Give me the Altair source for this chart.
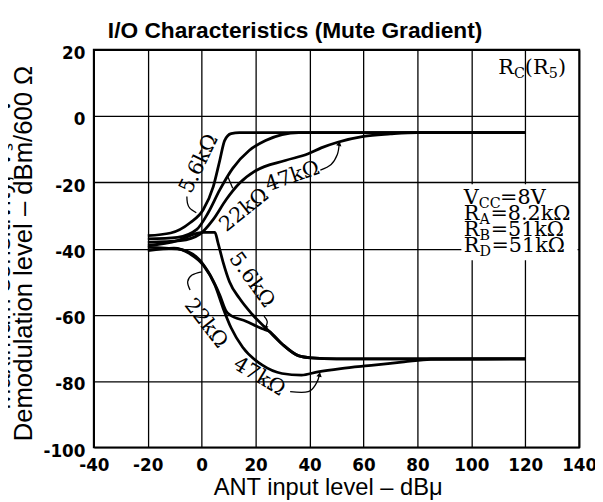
import altair as alt
import pandas as pd

# ---- curve data ----
UP_56_X = [-20, -11.5, -4.3, 0.6, 4.3, 6.7, 8.5, 10.9, 14, 40, 80, 120]
UP_56_Y = [-36.1, -35.3, -32.2, -28.2, -21.3, -13.4, -7.4, -5.3, -5.0, -5.0, -5.0, -5.0]
UP_22_X = [-20, -9, -1.8, 2.4, 6.7, 11.5, 17.6, 23.7, 29.8, 36, 80, 120]
UP_22_Y = [-37.1, -36.6, -34.2, -29.2, -22.3, -15.8, -10.4, -7.4, -5.6, -5.0, -5.0, -5.0]
UP_47_X = [-20, -7.9, -0.6, 4.3, 9.1, 14, 20, 31, 39.5, 44.3, 50.4, 60, 70, 80, 120]
UP_47_Y = [-38.1, -37.6, -35.6, -31.2, -25.2, -20.3, -16.5, -13.4, -11.4, -9.6, -7.9, -6.1, -5.4, -5.0, -5.0]
LOW_56_X = [-20, -9, -1.8, 0.6, 4.9, 6, 7.9, 10.3, 14, 18.8, 24.9, 29.8, 35.8, 40.7, 50, 120]
LOW_56_Y = [-39.1, -37.6, -35.4, -35.1, -35.1, -38.1, -44, -50, -55, -59.9, -64.9, -68.8, -72.3, -73.0, -73.3, -73.3]
LOW_22_X = [-20, -9, -1.8, 2.4, 6.7, 9.1, 10.3, 16.4, 22.5, 24.9, 29.8, 35.8, 40.7, 50, 120]
LOW_22_Y = [-39.6, -40.1, -42.6, -47, -54, -58.9, -59.9, -61.9, -64.2, -64.9, -68.8, -72.3, -73.0, -73.3, -73.3]
LOW_47_X = [-20, -10.3, -4.3, 0.6, 4.9, 7.9, 10.9, 15.2, 22.5, 29.8, 37, 43.1, 51.6, 63.8, 75, 85, 120]
LOW_47_Y = [-40.6, -39.9, -41.6, -45, -51, -57.9, -63.9, -69.8, -75.2, -77.7, -78.2, -77.2, -76.2, -75.2, -74.2, -73.4, -73.3]

# ---- curve labels ----
LABEL_TEXT = ["5.6kΩ", "22kΩ", "47kΩ", "5.6kΩ", "22kΩ", "47kΩ"]
LABEL_X = [-0.9, 15.8, 33.7, 18.5, 1.5, 21.3]
LABEL_Y = [-14.4, -28.4, -18.3, -49.5, -62.6, -78.7]
LABEL_ANGLE = [296, 321, 341, 54, 52, 31]

# ---- leader lines ----
LEAD_UP56_X = [-5.5, -5.3, -4.5, -2.0]
LEAD_UP56_Y = [-24.3, -26.2, -27.7, -29.2]
LEAD_UP22_X = [11.5, 9.7]
LEAD_UP22_Y = [-21.8, -18.3]
LEAD_UP47_X = [44.0, 48.0, 50.3, 51.0]
LEAD_UP47_Y = [-16.3, -14.6, -11.6, -8.3]
LEAD_LOW56_X = [23.1, 24.3, 23.6]
LEAD_LOW56_Y = [-60.4, -62.0, -64.0]
LEAD_LOW22_X = [-4.3, -5.2, -3.6, 0.0]
LEAD_LOW22_Y = [-52.5, -50.0, -48.0, -47.0]
LEAD_LOW47_X = [32.8, 39.5, 42.5, 43.7]
LEAD_LOW47_Y = [-83.2, -83.2, -80.7, -78.0]

ARROW_X = [51.0, 23.6, 43.7]
ARROW_Y = [-8.3, -64.0, -78.0]
ARROW_ANGLE = [12, 192, 12]

# ---- conditions box ----
BOX_X = 97.2
BOX_LINES_Y = [-26.5, -31.5, -36.3, -41.0]
BOX_MAIN = [["V", "=8V"], ["R", "=8.2kΩ"], ["R", "=51kΩ"], ["R", "=51kΩ"]]
BOX_SUB = ["CC", "A", "B", "D"]
BOX_SUB_OFF = [15.1, 16.0, 16.0, 16.0]
BOX_REST_OFF = [36.8, 27.0, 27.2, 28.1]
RC_X = 110.0
RC_Y = 12.7
BOX_RECT = [96.3, 139.4, -43.5, -20.6]

X_TICKS = [-40, -20, 0, 20, 40, 60, 80, 100, 120, 140]
Y_TICKS = [-100, -80, -60, -40, -20, 0, 20]

W, H = 492, 403
PX = 180.0 / W  # data units per pixel along x

def frame(name, xs, ys):
    return pd.DataFrame({"series": name, "x": xs, "y": ys, "o": list(range(len(xs)))})

curves = pd.concat([
    frame("u56", UP_56_X, UP_56_Y), frame("u22", UP_22_X, UP_22_Y), frame("u47", UP_47_X, UP_47_Y),
    frame("l56", LOW_56_X, LOW_56_Y), frame("l22", LOW_22_X, LOW_22_Y), frame("l47", LOW_47_X, LOW_47_Y),
])
leads = pd.concat([
    frame("a", LEAD_UP56_X, LEAD_UP56_Y), frame("b", LEAD_UP22_X, LEAD_UP22_Y),
    frame("c", LEAD_UP47_X, LEAD_UP47_Y), frame("d", LEAD_LOW56_X, LEAD_LOW56_Y),
    frame("e", LEAD_LOW22_X, LEAD_LOW22_Y), frame("f", LEAD_LOW47_X, LEAD_LOW47_Y),
])
labels = pd.DataFrame({"t": LABEL_TEXT, "x": LABEL_X, "y": LABEL_Y, "a": LABEL_ANGLE})
arrows = pd.DataFrame({"x": ARROW_X, "y": ARROW_Y, "a": ARROW_ANGLE})

main_rows, sub_rows = [], []
for i, y in enumerate(BOX_LINES_Y):
    main_rows.append({"t": BOX_MAIN[i][0], "x": BOX_X, "y": y})
    main_rows.append({"t": BOX_MAIN[i][1], "x": BOX_X + BOX_REST_OFF[i] * PX, "y": y})
    sub_rows.append({"t": BOX_SUB[i], "x": BOX_X + BOX_SUB_OFF[i] * PX, "y": y})
main_rows += [
    {"t": "R", "x": RC_X, "y": RC_Y},
    {"t": "(R", "x": RC_X + 26.9 * PX, "y": RC_Y},
    {"t": ")", "x": RC_X + 60.5 * PX, "y": RC_Y},
]
sub_rows += [
    {"t": "C", "x": RC_X + 16.0 * PX, "y": RC_Y},
    {"t": "5", "x": RC_X + 51.1 * PX, "y": RC_Y},
]
box_main = pd.DataFrame(main_rows)
box_sub = pd.DataFrame(sub_rows)
rect_df = pd.DataFrame({"x": [BOX_RECT[0]], "xe": [BOX_RECT[1]], "y": [BOX_RECT[2]], "ye": [BOX_RECT[3]]})

xs = alt.Scale(domain=[-40, 140], nice=False, zero=False)
ys = alt.Scale(domain=[-100, 20], nice=False, zero=False)
xaxis = alt.Axis(values=X_TICKS, title="ANT input level – dBμ", titleX=237, titleY=48, titleAlign="center",
                 titleBaseline="alphabetic", titleFontSize=24, labelPadding=10, labelFlush=False,
                 labelExpr="'' + datum.value")
yaxis = alt.Axis(values=Y_TICKS, title=["Maximum sensitivity, Vₛ – V", "Demodulation level – dBm/600 Ω"],
                 titleAngle=270, titleX=-85, titleY=206, titleAlign="center", titleBaseline="alphabetic",
                 titleLineHeight=22, titleFontSize=26, labelPadding=9, labelOffset=4, labelFlush=False,
                 labelExpr="'' + datum.value")
X = alt.X("x:Q", scale=xs, axis=xaxis)
Y = alt.Y("y:Q", scale=ys, axis=yaxis)

rect = alt.Chart(rect_df).mark_rect(color="white").encode(x=X, x2="xe:Q", y=Y, y2="ye:Q")
lines = alt.Chart(curves).mark_line(color="black", strokeWidth=2.8, interpolate="monotone").encode(
    x=X, y=Y, detail="series:N", order="o:Q")
lead_lines = alt.Chart(leads).mark_line(color="black", strokeWidth=1.3, interpolate="cardinal").encode(
    x=X, y=Y, detail="series:N", order="o:Q")
arrow_pts = alt.Chart(arrows).mark_point(shape="triangle-up", filled=True, size=30, color="black", opacity=1).encode(
    x=X, y=Y, angle=alt.Angle("a:Q", scale=None))
label_txt = alt.Chart(labels).mark_text(font="DejaVu Serif", fontSize=21, align="center", baseline="middle",
                                         color="black").encode(
    x=X, y=Y, text="t:N", angle=alt.Angle("a:Q", scale=None))
box_main_txt = alt.Chart(box_main).mark_text(font="DejaVu Serif", fontSize=21, align="left",
                                              baseline="alphabetic", color="black").encode(x=X, y=Y, text="t:N")
box_sub_txt = alt.Chart(box_sub).mark_text(font="DejaVu Serif", fontSize=14.5, align="left",
                                            baseline="alphabetic", dy=4, color="black").encode(x=X, y=Y, text="t:N")

chart = alt.layer(rect, lines, lead_lines, arrow_pts, label_txt, box_main_txt, box_sub_txt).properties(
    width=W, height=H,
    padding={"left": 87, "top": 39, "right": 16, "bottom": 52},
    autosize=alt.AutoSizeParams(type="none"),
    background="white",
    title=alt.TitleParams("I/O Characteristics (Mute Gradient)", font="Liberation Sans", fontSize=23,
                          fontWeight="bold", color="black", anchor="middle", dx=-42, offset=7, dy=23,
                          baseline="alphabetic"),
).configure_view(stroke="black", strokeWidth=2).configure_axis(
    grid=True, gridColor="black", gridOpacity=1, gridWidth=1.3, domain=False, ticks=False, tickSize=0,
    labelFont="DejaVu Sans", labelFontWeight="bold", labelFontSize=17, labelColor="black",
    titleFont="Liberation Sans", titleFontWeight="normal", titleColor="black",
)

chart.save("out.html", embed_options={"renderer": "svg", "actions": False})
